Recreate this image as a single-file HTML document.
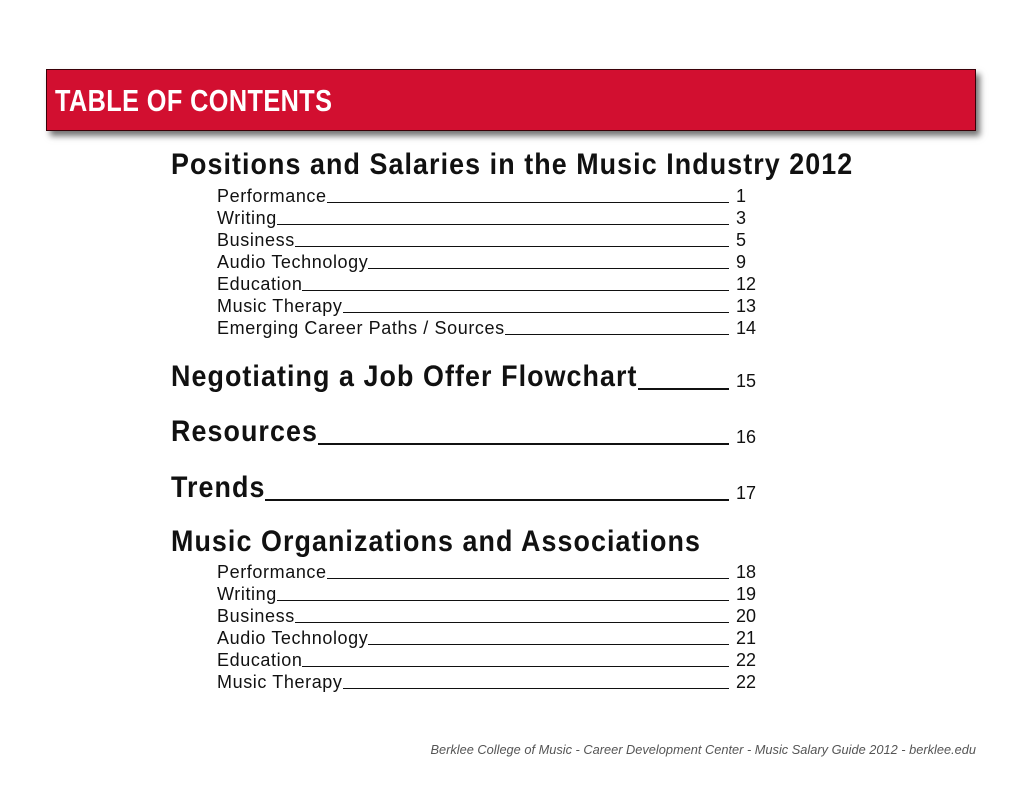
<!DOCTYPE html>
<html><head><meta charset="utf-8"><style>
body{margin:0;width:1024px;height:792px;background:#fff;position:relative;overflow:hidden;font-family:"Liberation Sans",sans-serif;color:#111}
.bar{position:absolute;left:46px;top:69px;width:928px;height:60px;background:#d20f30;border:1px solid #3a0008;box-shadow:4px 5px 6px rgba(0,0,0,0.55)}
.bar span{position:absolute;left:8px;top:13px;font-weight:bold;font-size:31px;color:#fff;letter-spacing:0.5px;transform:scaleX(0.815);transform-origin:left;white-space:nowrap}
.row{position:absolute;left:217px;width:512px;display:flex;align-items:flex-end;font-size:18px;line-height:20px;letter-spacing:0.6px}
.row .f{flex:1;border-bottom:1.3px solid #111;margin-bottom:3px}
.num{position:absolute;left:736px;font-size:18px;line-height:20px}
.h{position:absolute;left:171px;font-weight:bold;font-size:30px;letter-spacing:1.2px;line-height:34px;transform:scaleX(0.895);transform-origin:left;white-space:nowrap}
.hl{position:absolute;border-bottom:2px solid #111}
.foot{position:absolute;right:48px;top:742px;font-size:12.8px;font-style:italic;color:#555}
</style></head><body>
<div class="bar"><span>TABLE OF CONTENTS</span></div>
<div class="h" style="top:148px">Positions and Salaries in the Music Industry 2012</div>
<div class="h" id="hn" style="top:360px">Negotiating a Job Offer Flowchart</div>
<div class="hl" id="ln" style="top:388px"></div>
<div class="num" style="top:371px">15</div>
<div class="h" id="hr" style="top:415px">Resources</div>
<div class="hl" id="lr" style="top:443px"></div>
<div class="num" style="top:427px">16</div>
<div class="h" id="ht" style="top:471px">Trends</div>
<div class="hl" id="lt" style="top:499px"></div>
<div class="num" style="top:483px">17</div>
<div class="h" style="top:525px">Music Organizations and Associations</div>
<div class="foot">Berklee College of Music - Career Development Center - Music Salary Guide 2012 - berklee.edu</div>
<script>
const items1=["Performance","Writing","Business","Audio Technology","Education","Music Therapy","Emerging Career Paths / Sources"];
const pages1=["1","3","5","9","12","13","14"];
const items2=["Performance","Writing","Business","Audio Technology","Education","Music Therapy"];
const pages2=["18","19","20","21","22","22"];
function build(items,pages,top){
  items.forEach((t,i)=>{
    const r=document.createElement('div');r.className='row';r.style.top=(top+i*22)+'px';
    
    
    r.innerHTML='<span>'+t+'</span><span class="f"></span>';
    document.body.appendChild(r);
    const n=document.createElement('div');n.className='num';n.style.top=(top+i*22)+'px';n.textContent=pages[i];
    
    
    document.body.appendChild(n);
  });
}
build(items1,pages1,186);
build(items2,pages2,562);
[["hn","ln"],["hr","lr"],["ht","lt"]].forEach(([h,l])=>{
  const r=document.getElementById(h).getBoundingClientRect();
  const el=document.getElementById(l);
  el.style.left=r.right+'px';el.style.width=(729-r.right)+'px';
});
</script>
</body></html>
